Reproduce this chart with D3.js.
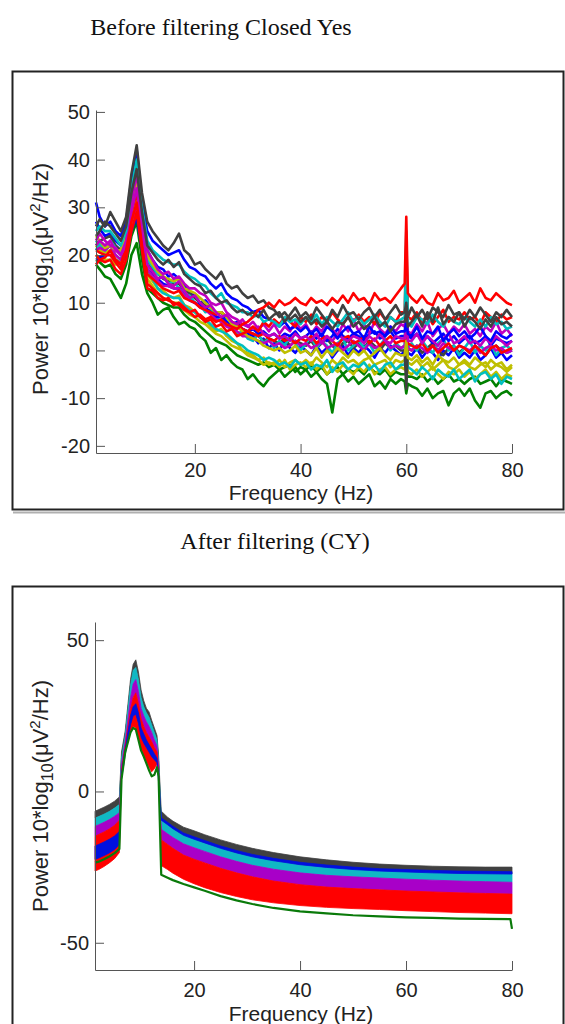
<!DOCTYPE html>
<html><head><meta charset="utf-8">
<script src="https://cdn.jsdelivr.net/npm/d3@7"></script>
<style>body{margin:0;background:#fff}svg{display:block}</style>
</head><body>
<script>
// ---------------- DATA ----------------
const titleTop = "Before filtering Closed Yes";
const titleBottom = "After filtering (CY)";
const xLabel = "Frequency (Hz)";
const xTicks = [20, 40, 60, 80];
const yTicksTop = [-20, -10, 0, 10, 20, 30, 40, 50];
const yTicksBottom = [-50, 0, 50];

// top panel (before filtering) frequency grid, Hz
const topFreqs = [1.3,2,3,4,5,6,7,8,9,10,11,12,13,14,15,16,17,18,19,20,21,22,23,24,25,26,27,28,29,30,31,32,33,34,35,36,37,38,39,40,41,42,43,44,45,46,47,48,49,50,51,52,53,54,55,56,57,58,59,59.7,60,60.3,61,62,63,64,65,66,67,68,69,70,71,72,73,74,75,76,77,78,79,80];

// channel spectra, dB
const chGray1 = [26,27.5,26,29,27,25,28,37,43,33, 27,25,23.5,22,21,22.5,24.5,21,20,18, 18.5,17,16,15,16.5,14,13,13.5,12,11, 11.5,10,10.5,9,8.5,7,8,6.5,7.5,6, 7,5.5,6.5,5,6,4.5,6,5.5,7,5, 6,4.5,5.5,7,5,6,4,5.5,6, 6,8,5, 6,7.5,5,8,6,9,5.5,7,6,8, 5,7,6,4.5,6.5,5,7,5.5,6,5];
const chBlue1 = [31,28,26,27,25,24,27,36,42,31, 25,23,22,21,20,20.5,21,19,17.5,17, 16,15.5,14,13,14,12,11,10.5,9.5,9, 8,8.5,7,6.5,6,5,6,4.5,5,4, 5,3.5,4.5,3,5,4,2.5,4,5,3.5, 4,2.5,5,3.5,4,3,5,3.5,4, 4,6,3.5, 3,5,2.5,4,3.5,5,2,3.5,4.5,3, 4,2.5,3.5,5,3,2,4,3,2.5,3.5];
const chCyan1 = [25,26,25,25,23.5,22,25,34,40,30, 23,21,20,19,18.5,18,18,16.5,15.5,15, 14,13.5,12,11,12,10,9.5,9,8,8, 7,7.5,6,6.5,6,5,7,6,6.5,5.5, 7,6,7.5,5.5,7,6,5,6.5,8,6, 7,5.5,6.5,7.5,6,5,7,6,6.5, 7,25,6, 5,7,6.5,5.5,7.5,6,5,7,6,5.5, 7,6,5,6.5,5,7,5.5,6,4.5,5];
const chMagenta1 = [22,23,22,23,21,20,23,31,37,28, 21,19,17,16,16.5,15,15.5,14,13,13, 12,11.5,10,9.5,10,8,7,6.5,5.5,5, 4.5,5,3.5,3,3.5,2.5,3,2,3.5,2.5, 3,2,3.5,1.5,3,2,3.5,2.5,2,3, 2.5,1.5,3,2,3.5,2,1.5,3,2.5, 2.5,6,2, 2,3.5,1.5,3,2,1,2.5,3.5,1.5,2, 3,1.5,2,1,2.5,1.5,3,2,1,2];
const chYellow1 = [24,23,21.5,22,21,21,24,31,36,27, 20,18,16.5,15.5,15,14.5,15,13,12.5,12, 11,10,9,8,8,7,5.5,5,4,3, 2.5,2,1,0.5,0,0.5,-0.5,0,1,-0.5, 0,-1,0.5,-1.5,0,-1,0.5,-0.5,-1.5,0, -1,0,-1.5,-0.5,0.5,-1,-2,-0.5,-1, -1,2,-1.5, -2,-1,-2.5,-1.5,-3,-1,-2,-2.5,-1.5,-3, -2,-3,-1.5,-2.5,-3.5,-2,-3,-2.5,-4,-3];
const chRed1 = [21,20.5,20,20,18.5,17,21,27,31,22, 14,13,12,11,10.5,10,9.5,8.5,8,7, 7.5,6.5,7,6,6.5,5.5,5,4.5,5.5,6, 7,8.5,9,10,9,10.5,9.5,10,11,10, 9.5,11,10,10.5,9.5,11,10,11.5,10,12, 10.5,11,9.5,12,10.5,11,10,11.5,13, 14,28,12, 11,10,11.5,10,9.5,12,10.5,11,12.5,10, 11,12,10,13,11,10.5,12,11,10,9.5];
const chGreen1 = [18,17,15.5,15,13,11,14,20,22.5,16, 12,10,7.5,8.5,9,7,5.5,6,5,4.5, 3,2,-0.5,0.5,-2,-1,-2.5,-3.5,-4,-6, -5,-6.5,-7.5,-6,-5,-4,-5.5,-4.5,-3.5,-5, -4,-5.5,-4.5,-6,-7,-13,-6,-5,-6.5,-5.5, -7,-6,-5,-7.5,-6.5,-8,-6,-7,-6, -6.5,-9,-7, -7.5,-8,-9.5,-8,-10,-9,-8.5,-11.5,-9,-8, -9.5,-8,-10.5,-12,-9,-8.5,-10,-9,-8.5,-9.5];
const chRed2 = [20,19,19.5,21,19,18,22,29,33,24, 16,15,14,13,12.5,12,12.5,11,10.5,10, 9,8.5,8,7.5,8,7,6,5.5,4.5,4, 3.5,3,3.5,2.5,2,3,2,2.5,1.5,2.5, 2,3,1.5,2.5,3,2,1,2.5,3,1.5, 2,3,1.5,2.5,1,2,3,1.5,2, 2,4,1.5, 1,0.5,1.5,0,1,-0.5,0.5,1.5,0,1, 0.5,-0.5,1,0,-1,0.5,1,-0.5,0,0.5];
const chCyan2 = [23,22,21,22,20,19,22,29,34,25, 17,15,13,12,11.5,11,11,9.5,8.5,8, 7,6.5,5.5,4.5,4,3.5,2.5,1.5,1,0, -0.5,-1,-2,-1.5,-2,-3,-2.5,-3.5,-2,-3, -2.5,-4,-3,-3.5,-2,-4.5,-3,-2.5,-4,-3, -3.5,-2.5,-4,-3,-4.5,-3,-2.5,-4,-3, -3,0,-3.5, -4,-5,-3.5,-4.5,-6,-4,-5,-5.5,-4,-6, -5,-4,-6.5,-5,-4.5,-6,-5,-7,-5.5,-6];
const chYellow2 = [20,19.5,19,19,18,18,20,26,30,22, 15,13.5,12,11,10.5,10,10,8.5,7.5,7, 6,5.5,4.5,3.5,3,2,1,0.5,0,-1, -1.5,-2,-3,-2.5,-3,-2,-3.5,-2.5,-2,-3, -2,-3,-1.5,-2.5,-3.5,-2,-3,-1.5,-2.5,-2, -3,-2,-1.5,-3,-2.5,-2,-3.5,-2,-2.5, -2,-1,-2.5, -3,-2,-3.5,-2.5,-4,-3,-2,-3.5,-4,-3, -2.5,-3.5,-4,-3,-2.5,-4,-3,-3.5,-4.5,-3.5];
const chGray2 = [22,23,23.5,24,22,21,24,31,35,26, 19,17,16,15,14.5,14,14,12.5,12,11, 10,9.5,9,8,8,7,6,5,4.5,4, 3.5,3,2,2.5,2,1.5,2.5,1,2,1.5, 1,2,0.5,1.5,2.5,1,0,1.5,2,0.5, 1.5,0.5,2,1,0,1.5,0.5,1,0, 0,-8,0.5, 0,1,-0.5,0.5,1.5,0,-1,0.5,1,-0.5, 0.5,-0.5,1,0,-1,0.5,1,0,-0.5,0];
const chBlue2 = [19,19.5,20,20,19,18,20,25,28,21, 17,16,15,14,13.5,13,13,11.5,10.5,10, 9.5,9,8,7,7,6,5.5,5,4.5,4, 4.5,3.5,4,3,3.5,2.5,3.5,3,4,2.5, 3,4,2.5,3.5,2,3,4.5,3,2.5,3.5, 3,2,3.5,4,2.5,3,4,2.5,3, 3,2,3, 2.5,3.5,2,3,1.5,2.5,3.5,2,3,1.5, 2.5,3,1.5,2,3,1,2.5,2,1.5,2];
const chMagenta2 = [21,21.5,21,22,20,19,21,27,30,23, 17,15.5,14.5,13.5,13.5,13,13,11.5,10.5,10, 9,8.5,7.5,6.5,6,5,4.5,4,3,3, 2.5,2,1.5,2,1,1.5,0.5,1,2,1, 1.5,0.5,1,2,0.5,1,1.5,0,1,2, 1,0,1.5,0.5,1,2,0.5,1,0.5, 1,3,0.5, 0,1,0.5,-0.5,1,0,1.5,0.5,0,1, 0.5,0,1,-0.5,0.5,1,0,0.5,-0.5,0];
const chGreen2 = [19,18.5,17.5,18,16,15,18,24,27,19, 13,12,11,10,9.5,9,9,7.5,6.5,6, 5,4,3,2,1.5,1,0,-1,-1.5,-2, -2.5,-3,-2.5,-3.5,-3,-4,-3.5,-3,-4.5,-3.5, -4,-3,-4.5,-3.5,-5,-4,-3.5,-5,-4,-4.5, -4,-5,-3.5,-4.5,-5,-4,-5.5,-4.5,-5, -5,-5,-5.5, -5.5,-6,-5,-6.5,-5.5,-7,-6,-5,-6.5,-6, -7,-6,-5.5,-7,-6.5,-6,-7.5,-6,-6.5,-7];
const chGray3 = [24,25,27,26,24.5,23,26,33,38,29, 22,20.5,19,18,19,17.5,18.5,16,15,14, 13.5,12,12.5,11,10,10.5,9,8,8.5,7.5, 8,7,8.5,6.5,7.5,8,6,7.5,9,7, 8,6.5,9,7.5,6,8.5,7,9.5,7.5,8, 6.5,8,9,7,8.5,6.5,8,9.5,7.5, 8,10,7, 9,7,8.5,6.5,9,8,7,9.5,7.5,8, 6.5,8.5,7,9,7.5,6,8,7,8.5,7];
const chCyan3 = [21,22.5,21,23,21.5,20,23,30,35,26, 19,17.5,16,15.5,14,14.5,13,12,11.5,10, 9.5,8,8.5,7,6,6.5,5,3.5,4,2.5, 2,3.5,1.5,2.5,0.5,2,1,3,1.5,0, 1.5,3,0.5,2,1,-0.5,1.5,2.5,0,1, 2,0.5,1.5,-0.5,1,2.5,0,1.5,0.5, 1,18,0.5, 1.5,0,2,0.5,-0.5,1.5,2.5,0,1,-1, 0.5,2,-0.5,1,0,1.5,-1,0.5,1,0];
const chMagenta3 = [23,24.5,23,22,21.5,20,22,29,34,25, 18,16.5,15,15.5,14,13.5,14.5,12.5,11,11.5, 10,9,9.5,8,7,7.5,6,5.5,6.5,5, 6,4.5,5.5,4,5.5,3.5,5,4,6,4.5, 5.5,3.5,5,4,6,4.5,3,5.5,4,6.5, 4,5.5,3.5,6,4.5,3.5,5,4,5.5, 5,9,4, 3.5,5.5,4,6,3,4.5,5.5,3.5,5,4, 5.5,3.5,4.5,3,5,4,6,3.5,4.5,3];
const chBlue3 = [27,25.5,24,24.5,23,22,24,32,38,28, 21,19,17.5,17,15.5,16,15,13.5,12,11.5, 10,10.5,9,7.5,8,6.5,5.5,6,4.5,3.5, 3,1.5,2.5,0.5,1.5,0,2,0.5,-0.5,1, 0,-1,1,-0.5,0.5,-1.5,0,1,-1,0.5, -0.5,1,0,-1.5,0.5,-0.5,1,0,-1, 0,4,-0.5, -1,0.5,-1.5,0,-0.5,-2,0,-1,0.5,-1.5, -0.5,-1.5,0,-2,-1,0.5,-1.5,-0.5,-2,-1];
const chRed3 = [18,19,18.5,19,17,16,19,25,29,21, 13,12.5,11,10.5,11,9.5,10,9,8,8.5, 7,6,6.5,5,5.5,4,4.5,3,3.5,4, 5,4,6,5,6.5,5.5,7,6,5,7, 6,7.5,5.5,7,6,8,6.5,5.5,7,6, 7.5,6,7,5.5,8,6.5,7,6,8, 8,22,7, 6.5,8,6,7.5,5.5,7,8.5,6,7,6.5, 8,6.5,7,5.5,8,7,6,7.5,6.5,7];
const chYellow3 = [22,21,20.5,21,19,18.5,21,28,32,23, 16,14.5,13,12.5,11.5,11,11.5,9.5,9,8, 7,6.5,5,4,4.5,3,2,1.5,0,-0.5, -1,-2,-1.5,-3,-2.5,-3.5,-2,-4,-3,-2.5, -3.5,-2.5,-4,-3,-5,-3.5,-4.5,-3,-4,-5, -3.5,-4.5,-3,-5,-4,-3.5,-5,-4,-3.5, -4,-2,-4.5, -5,-4,-5.5,-4.5,-3.5,-5,-6,-4.5,-5,-4, -5.5,-4.5,-6,-5,-4,-5.5,-4.5,-6,-5,-5.5];

// bottom panel (after filtering) frequency grid, Hz
const botFreqs = [1.3,2,3,4,5,5.9,6.3,7,8,8.5,9,9.5,10,10.5,11,11.5,12,12.5,13,13.3,13.8,15,16,18,20,22,25,28,31,35,40,45,50,55,60,65,70,75,79.7,80];
// band envelopes of the filtered channels, dB
const grayTop = [-6.5,-6,-5.2,-4.3,-3.2,-1.8,13,20,37,42,43.5,39.5,33.5,30,27.5,26.3,23.5,21,18.5,12,-6.5,-8.5,-9.8,-11.8,-13,-14.3,-16,-17.5,-18.8,-20.2,-21.6,-22.6,-23.4,-24,-24.4,-24.7,-24.9,-25,-25,-25];
const cyanTop = [-8.8,-8.3,-7.5,-6.6,-5.5,-4.3,11,18.5,35,40,41,37,31,28,26,24.5,22,19.5,17,10,-9.5,-11,-12.3,-14.5,-15.8,-17,-18.8,-20.3,-21.6,-22.9,-24.2,-25.1,-25.8,-26.3,-26.6,-26.9,-27.1,-27.2,-27.3,-27.3];
const magentaTop = [-11.5,-11,-10.2,-9.3,-8.2,-7,9,16.5,31,35.5,37,33,27.5,25,23,21.5,19.5,17,15,8,-12.5,-14,-15.2,-17.3,-18.6,-19.8,-21.6,-23.1,-24.4,-25.7,-26.9,-27.7,-28.2,-28.6,-29,-29.3,-29.6,-29.8,-30,-30];
const redTop = [-14.8,-14.2,-13.4,-12.4,-11.2,-9.5,7,15,27,31,32.6,29,24,21.5,19.5,18,16.5,14.5,13,6,-16,-17.5,-18.8,-21,-22.4,-23.6,-25.4,-26.9,-28.2,-29.6,-30.8,-31.6,-32.1,-32.5,-32.9,-33.2,-33.5,-33.7,-33.9,-33.9];
const redBottom = [-26.3,-25.8,-24.8,-23.6,-22.2,-20.2,5,13.5,20,21.5,21,17.4,14,12,10,8,6.5,7.5,9,6,-24.5,-25.8,-27,-29,-30.5,-31.8,-33.4,-34.7,-35.8,-36.8,-37.7,-38.3,-38.7,-39,-39.4,-39.7,-40,-40.2,-40.4,-40.4];
const blueTop = [-18,-17.5,-16.7,-15.8,-14.7,-13.2,6,14,25,28,29,26,21,19,17,15.5,14,12.5,11,5,-8.7,-10.2,-11.5,-13.7,-15,-16.2,-18,-19.5,-20.8,-22.1,-23.4,-24.3,-25,-25.5,-25.8,-26.1,-26.3,-26.4,-26.5,-26.5];
const blueBottom = [-22.5,-22,-21.2,-20.3,-19.2,-17.5,4,12,22,25,25.5,22.5,18,16,14.5,13,11.5,10.5,9.5,3,-9.5,-11,-12.3,-14.5,-15.8,-17,-18.8,-20.3,-21.6,-22.9,-24.2,-25.1,-25.8,-26.3,-26.6,-26.9,-27.1,-27.2,-27.3,-27.3];
const greenLow = [-23.5,-23.2,-22.4,-21.5,-20.4,-19,4,13,19.5,21,20.5,17,13.5,11.5,9.3,7,5,5.5,8,5,-27.5,-28.5,-29.3,-30.6,-31.7,-32.8,-34.6,-36,-37.2,-38.5,-39.6,-40.3,-40.9,-41.3,-41.6,-41.8,-42,-42.1,-42.2,-45.4];

// ---------------- STYLE / LAYOUT ----------------
const C = {gray:"#404040", blue:"#0000ff", cyan:"#00bfbf", magenta:"#bf00bf", yellow:"#bfbf00", red:"#ff0000", green:"#008000"};
const topSeries = [
  {v:chGreen1, c:C.green}, {v:chGreen2, c:C.green}, {v:chYellow3, c:C.yellow}, {v:chYellow2, c:C.yellow},
  {v:chCyan2, c:C.cyan}, {v:chBlue3, c:C.blue}, {v:chGray2, c:C.gray}, {v:chCyan3, c:C.cyan},
  {v:chBlue2, c:C.blue}, {v:chMagenta2, c:C.magenta}, {v:chRed2, c:C.red}, {v:chYellow1, c:C.yellow},
  {v:chMagenta3, c:C.magenta}, {v:chMagenta1, c:C.magenta}, {v:chBlue1, c:C.blue}, {v:chRed3, c:C.red},
  {v:chCyan1, c:C.cyan}, {v:chGray3, c:C.gray}, {v:chGray1, c:C.gray}, {v:chRed1, c:C.red}
];
const SANS = "'Liberation Sans', Arial, sans-serif";
const SERIF = "'Liberation Serif', 'Times New Roman', serif";
const fmt = d => String(d);

const svg = d3.select("body").append("svg").attr("width",565).attr("height",1024);

// titles
svg.append("text").attr("x",221).attr("y",35).attr("text-anchor","middle")
  .attr("font-family",SERIF).attr("font-size",24).attr("fill","#111").text(titleTop);
svg.append("text").attr("x",275).attr("y",549).attr("text-anchor","middle")
  .attr("font-family",SERIF).attr("font-size",24).attr("fill","#111").text(titleBottom);

// frames
svg.append("line").attr("x1",13).attr("x2",565).attr("y1",512.5).attr("y2",512.5).attr("stroke","#b0b0b0").attr("stroke-width",2);
svg.append("rect").attr("x",12.5).attr("y",71.5).attr("width",551).attr("height",438).attr("fill","none").attr("stroke","#222").attr("stroke-width",2);
svg.append("rect").attr("x",12.5).attr("y",586.5).attr("width",551).attr("height",500).attr("fill","none").attr("stroke","#222").attr("stroke-width",2);

function yLabel(g, cx, cy){
  const t = g.append("text").attr("transform",`translate(${cx},${cy}) rotate(-90)`)
    .attr("text-anchor","middle").attr("font-family",SANS).attr("font-size",22).attr("fill","#222");
  t.append("tspan").text("Power 10*log");
  t.append("tspan").attr("font-size",16).attr("dy",5).text("10");
  t.append("tspan").attr("dy",-5).text("(\u03BCV");
  t.append("tspan").attr("font-size",15).attr("dy",-8).text("2");
  t.append("tspan").attr("dy",8).text("/Hz)");
}

function styleAxis(g, fs){
  g.select(".domain").attr("stroke","#555");
  g.selectAll(".tick line").attr("stroke","#555");
  g.selectAll(".tick text").attr("font-family",SANS).attr("font-size",fs).attr("fill","#222");
}

// ---------- TOP PANEL ----------
const xT = d3.scaleLinear().domain([1.3,80]).range([96,512]);
const yT = d3.scaleLinear().domain([-21.5,50.4]).range([453,110]);
const gT = svg.append("g");
const lineT = d3.line().x((d,i)=>xT(topFreqs[i])).y(d=>yT(d));
gT.selectAll("path.ch").data(topSeries).join("path").attr("class","ch")
  .attr("d",d=>lineT(d.v)).attr("fill","none").attr("stroke",d=>d.c)
  .attr("stroke-width",2.6).attr("stroke-linejoin","round");
const axXT = gT.append("g").attr("transform","translate(0,453)")
  .call(d3.axisBottom(xT).tickValues(xTicks).tickFormat(fmt).tickSizeInner(-9).tickSizeOuter(0).tickPadding(10));
styleAxis(axXT,20);
const axYT = gT.append("g").attr("transform","translate(96,0)")
  .call(d3.axisLeft(yT).tickValues(yTicksTop).tickFormat(fmt).tickSizeInner(-9).tickSizeOuter(0).tickPadding(6));
styleAxis(axYT,20);
gT.append("text").attr("x",301).attr("y",500).attr("text-anchor","middle")
  .attr("font-family",SANS).attr("font-size",21).attr("fill","#222").text(xLabel);
yLabel(gT, 48, 279);

// ---------- BOTTOM PANEL ----------
const xB = d3.scaleLinear().domain([1.3,80]).range([95,512]);
const yB = d3.scaleLinear().domain([-59,56]).range([970,622]);
const gB = svg.append("g");
function band(top, bot){
  return d3.area().x((d,i)=>xB(botFreqs[i])).y0((d,i)=>yB(bot[i])).y1((d,i)=>yB(top[i]))(top);
}
const bands = [
  {t:grayTop, b:cyanTop, c:C.gray},
  {t:cyanTop, b:magentaTop, c:"#10b8c4"},
  {t:magentaTop, b:redTop, c:"#a800c8"},
  {t:redTop, b:redBottom, c:C.red},
  {t:blueTop, b:blueBottom, c:"#0010e0"}
];
gB.selectAll("path.band").data(bands).join("path").attr("class","band")
  .attr("d",d=>band(d.t,d.b)).attr("fill",d=>d.c).attr("stroke",d=>d.c).attr("stroke-width",0.8);
gB.append("path").attr("d", d3.line().x((d,i)=>xB(botFreqs[i])).y(d=>yB(d))(greenLow))
  .attr("fill","none").attr("stroke","#0a7a0a").attr("stroke-width",2.2).attr("stroke-linejoin","round");
const axXB = gB.append("g").attr("transform","translate(0,970)")
  .call(d3.axisBottom(xB).tickValues(xTicks).tickFormat(fmt).tickSizeInner(-9).tickSizeOuter(0).tickPadding(13));
styleAxis(axXB,20);
const axYB = gB.append("g").attr("transform","translate(95,0)")
  .call(d3.axisLeft(yB).tickValues(yTicksBottom).tickFormat(fmt).tickSizeInner(-9).tickSizeOuter(0).tickPadding(6));
styleAxis(axYB,20);
gB.append("text").attr("x",301).attr("y",1021).attr("text-anchor","middle")
  .attr("font-family",SANS).attr("font-size",21).attr("fill","#222").text(xLabel);
yLabel(gB, 48, 796);
</script>
</body></html>
